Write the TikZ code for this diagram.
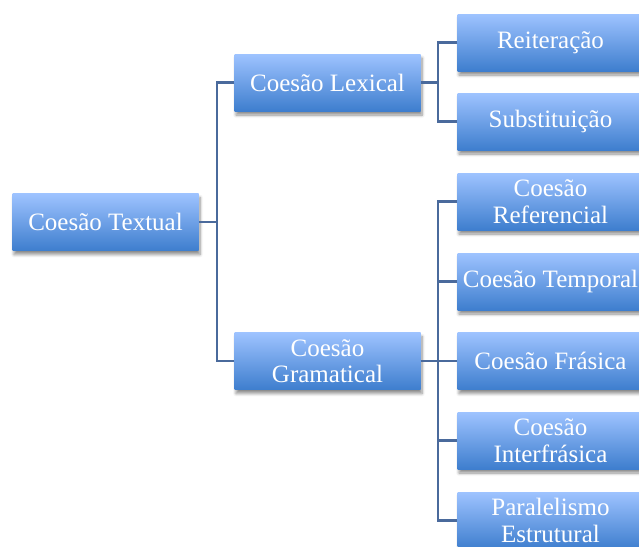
\documentclass[tikz,border=0pt]{standalone}
\usepackage{fontspec}
\setmainfont{Liberation Serif}
\usetikzlibrary{shadows.blur}
\definecolor{boxtop}{RGB}{158,195,255}
\definecolor{boxbot}{RGB}{62,126,206}
\definecolor{linkc}{RGB}{74,106,156}
\tikzset{
  box/.style={rectangle, minimum width=186pt, minimum height=57pt, inner sep=0pt,
    top color=boxtop, bottom color=boxbot, draw=none, text=white, align=center,
    font=\fontsize{25}{26.5}\selectfont,
    blur shadow={shadow xshift=1.5pt, shadow yshift=-4pt, shadow blur steps=6, shadow blur radius=3pt, shadow opacity=45}},
  link/.style={draw=linkc, line width=2.4pt}
}
\begin{document}
\begin{tikzpicture}[x=1pt,y=-1pt]
\useasboundingbox (0,0) rectangle (639,546);
\clip (0,0) rectangle (639,546);
\node[box] (T) at (105.5,222) {Coesão Textual};
\node[box] (L) at (327.5,82.5) {Coesão Lexical};
\node[box] (G) at (327.5,361) {Coesão\\Gramatical};
\node[box] (R1) at (550.5,42.5) {Reiteração};
\node[box] (R2) at (550.5,121.5) {Substituição};
\node[box] (R3) at (550.5,201.5) {Coesão\\Referencial};
\node[box] (R4) at (550.5,281.5) {Coesão Temporal};
\node[box] (R5) at (550.5,361) {Coesão Frásica};
\node[box] (R6) at (550.5,440.5) {Coesão\\Interfrásica};
\node[box] (R7) at (550.5,520.5) {Paralelismo\\Estrutural};
\coordinate (j1) at (217,222);
\coordinate (j2) at (438,82.5);
\coordinate (j3) at (438,361);
\draw[link] (T.east) -- (j1);
\draw[link] (L.west) -| (j1);
\draw[link] (G.west) -| (j1);
\draw[link] (L.east) -- (j2);
\draw[link] (R1.west) -| (j2);
\draw[link] (R2.west) -| (j2);
\draw[link] (G.east) -- (j3);
\draw[link] (R3.west) -| (j3);
\draw[link] (R4.west) -| (j3);
\draw[link] (R5.west) -- (j3);
\draw[link] (R6.west) -| (j3);
\draw[link] (R7.west) -| (j3);
\end{tikzpicture}
\end{document}
